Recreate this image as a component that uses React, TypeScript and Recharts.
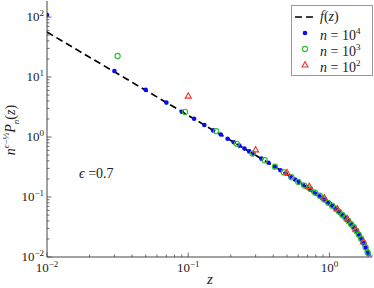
import React from "react";
import { ScatterChart, Scatter, XAxis, YAxis } from "recharts";

// f(z)
const F_Z = [0.01, 0.02, 0.03, 0.05, 0.07, 0.1, 0.15, 0.2, 0.3, 0.4, 0.5, 0.6, 0.7, 0.8, 0.9, 1.0, 1.1, 1.2, 1.3, 1.4, 1.5, 1.6, 1.7, 1.8, 1.9];
const F_Y = [56.2, 21.4, 12.2, 6.0, 3.76, 2.29, 1.3, 0.874, 0.497, 0.333, 0.239, 0.181, 0.143, 0.1147, 0.0941, 0.0776, 0.065, 0.0536, 0.0448, 0.0368, 0.0305, 0.0243, 0.019, 0.0146, 0.0105];

// n = 10^4
const N4_Z = [0.01, 0.03, 0.05, 0.07, 0.09, 0.11, 0.13, 0.15, 0.17, 0.19, 0.21, 0.23, 0.25, 0.27, 0.29,
  0.33, 0.37, 0.41, 0.45, 0.49, 0.53, 0.57, 0.61, 0.65, 0.69, 0.73, 0.77, 0.81, 0.85, 0.89, 0.93, 0.97,
  1.01, 1.05, 1.09, 1.13, 1.17, 1.21, 1.25, 1.29, 1.33, 1.37, 1.41, 1.45, 1.49, 1.53, 1.57, 1.61, 1.65,
  1.69, 1.73, 1.77, 1.81, 1.85, 1.89];
const N4_Y = [108, 12.6, 6.1, 3.75, 2.63, 2.01, 1.59, 1.29, 1.1, 0.938, 0.816, 0.719, 0.641, 0.576, 0.521,
  0.436, 0.372, 0.322, 0.28, 0.246, 0.219, 0.196, 0.177, 0.16, 0.146, 0.133, 0.122, 0.112, 0.103, 0.0958, 0.0885, 0.082,
  0.0762, 0.0708, 0.0661, 0.0612, 0.0567, 0.0527, 0.049, 0.0456, 0.0421, 0.039, 0.0362, 0.0336, 0.0311, 0.0286, 0.026, 0.0238, 0.0215,
  0.0195, 0.0176, 0.0158, 0.0142, 0.0125, 0.0111];

// n = 10^3
const N3_Z = [0.0316, 0.0949, 0.158, 0.221, 0.285, 0.348, 0.411, 0.474, 0.538, 0.601, 0.664, 0.727, 0.791, 0.854, 0.917,
  0.98, 1.044, 1.107, 1.17, 1.233, 1.297, 1.36, 1.423, 1.486, 1.55, 1.613, 1.676, 1.74, 1.803, 1.866];
const N3_Y = [22.4, 2.62, 1.25, 0.77, 0.53, 0.41, 0.32, 0.259, 0.214, 0.178, 0.155, 0.138, 0.118, 0.105, 0.091,
  0.08, 0.0718, 0.0641, 0.0567, 0.0501, 0.0453, 0.0399, 0.0352, 0.0313, 0.0272, 0.0235, 0.0202, 0.0172, 0.0144, 0.0118];

// n = 10^2
const N2_Z = [0.1, 0.3, 0.5, 0.72, 0.92, 1.14, 1.34, 1.53, 1.74];
const N2_Y = [4.8, 0.61, 0.255, 0.15, 0.097, 0.063, 0.043, 0.029, 0.018];

const X_TICKS = [0.01, 0.02, 0.03, 0.04, 0.05, 0.06, 0.07, 0.08, 0.09, 0.1, 0.2, 0.3, 0.4, 0.5, 0.6, 0.7, 0.8, 0.9, 1, 2];
const Y_TICKS = [0.01, 0.02, 0.03, 0.04, 0.05, 0.06, 0.07, 0.08, 0.09, 0.1, 0.2, 0.3, 0.4, 0.5, 0.6, 0.7, 0.8, 0.9,
  1, 2, 3, 4, 5, 6, 7, 8, 9, 10, 20, 30, 40, 50, 60, 70, 80, 90, 100];

const SERIF = "'Liberation Serif', 'DejaVu Serif', serif";
const AXIS = "#444";
const BLUE = "#0a0af5";
const GREEN = "#2bbf2b";
const RED = "#f03030";

const zip = (zs: number[], ys: number[]) => zs.map((z, i) => ({ z, y: ys[i] }));

const isMajor = (v: number) => Math.abs(Math.log10(v) - Math.round(Math.log10(v))) < 1e-6;
const expText = (v: number) => {
  const e = Math.round(Math.log10(v));
  return e < 0 ? `\u2212${-e}` : `${e}`;
};

const Pow = ({ x, y, v, anchor }: any) => (
  <text x={x} y={y} textAnchor={anchor} fontFamily={SERIF} fontSize={13} fill="#222">
    10<tspan dy={-5} fontSize={9}>{expText(v)}</tspan>
  </text>
);

const BottomTick = ({ x, y, payload }: any) => {
  const major = isMajor(payload.value);
  return (
    <g>
      <line x1={x} x2={x} y1={y} y2={y - (major ? 4.5 : 2.5)} stroke={AXIS} strokeWidth={0.8} />
      {major && <Pow x={x} y={y + 15} v={payload.value} anchor="middle" />}
    </g>
  );
};

const TopTick = ({ x, y, payload }: any) => (
  <line x1={x} x2={x} y1={y} y2={y + (isMajor(payload.value) ? 4.5 : 2.5)} stroke={AXIS} strokeWidth={0.8} />
);

const LeftTick = ({ x, y, payload }: any) => {
  const major = isMajor(payload.value);
  return (
    <g>
      <line x1={x} x2={x + (major ? 4.5 : 2.5)} y1={y} y2={y} stroke={AXIS} strokeWidth={0.8} />
      {major && <Pow x={x - 3} y={y + 4} v={payload.value} anchor="end" />}
    </g>
  );
};

const RightTick = ({ x, y, payload }: any) => (
  <line x1={x} x2={x - (isMajor(payload.value) ? 4.5 : 2.5)} y1={y} y2={y} stroke={AXIS} strokeWidth={0.8} />
);

const Dot = (p: any) => <circle cx={p.cx} cy={p.cy} r={2.3} fill={BLUE} />;
const Ring = (p: any) => <circle cx={p.cx} cy={p.cy} r={2.6} fill="none" stroke={GREEN} strokeWidth={1.1} />;
const Tri = (p: any) => (
  <path d={`M${p.cx},${p.cy - 3.3}L${p.cx - 3},${p.cy + 2}L${p.cx + 3},${p.cy + 2}Z`} fill="none" stroke={RED} strokeWidth={1.1} />
);
const NoShape = () => <g />;

export default function App() {
  return (
    <div style={{ position: "absolute", left: 0, top: 0, width: 374, height: 288, background: "#fff", fontFamily: SERIF }}>
      <ScatterChart width={374} height={288} margin={{ top: 1, right: 2, bottom: 0, left: 0 }}>
        <XAxis
          dataKey="z"
          type="number"
          scale="log"
          domain={[0.01, 2]}
          allowDataOverflow
          ticks={X_TICKS}
          interval={0}
          tickSize={0}
          tickMargin={0}
          tickLine={false}
          tick={<BottomTick />}
          axisLine={{ stroke: AXIS }}
          height={31}
        />
        <XAxis
          xAxisId="top"
          orientation="top"
          type="number"
          scale="log"
          domain={[0.01, 2]}
          allowDataOverflow
          ticks={X_TICKS}
          interval={0}
          tickSize={0}
          tickMargin={0}
          tickLine={false}
          tick={<TopTick />}
          axisLine={{ stroke: AXIS }}
          height={0}
        />
        <YAxis
          dataKey="y"
          type="number"
          scale="log"
          domain={[0.01, 185]}
          allowDataOverflow
          ticks={Y_TICKS}
          interval={0}
          tickSize={0}
          tickMargin={0}
          tickLine={false}
          tick={<LeftTick />}
          axisLine={{ stroke: AXIS }}
          width={47}
        />
        <YAxis
          yAxisId="right"
          orientation="right"
          type="number"
          scale="log"
          domain={[0.01, 185]}
          allowDataOverflow
          ticks={Y_TICKS}
          interval={0}
          tickSize={0}
          tickMargin={0}
          tickLine={false}
          tick={<RightTick />}
          axisLine={{ stroke: AXIS }}
          width={0}
        />
        <Scatter
          data={zip(F_Z, F_Y)}
          shape={NoShape}
          line={{ stroke: "#000", strokeWidth: 1.7, strokeDasharray: "7 4" }}
          isAnimationActive={false}
        />
        <Scatter data={zip(N4_Z, N4_Y)} shape={Dot} isAnimationActive={false} />
        <Scatter data={zip(N3_Z, N3_Y)} shape={Ring} isAnimationActive={false} />
        <Scatter data={zip(N2_Z, N2_Y)} shape={Tri} isAnimationActive={false} />
      </ScatterChart>

      {/* legend */}
      <div
        style={{
          position: "absolute", left: 291, top: 5, width: 80, height: 69,
          border: "1px solid #999", background: "#fff", fontSize: 14, color: "#222",
        }}
      >
        {[
          { icon: <line x1={2} x2={22} y1={6} y2={6} stroke="#000" strokeWidth={1.7} strokeDasharray="7 4" />, label: <><i>f</i>(<i>z</i>)</> },
          { icon: <circle cx={12} cy={6} r={2.3} fill={BLUE} />, label: <><i>n</i> = 10<sup style={{ fontSize: 9 }}>4</sup></> },
          { icon: <circle cx={12} cy={6} r={2.6} fill="none" stroke={GREEN} strokeWidth={1.1} />, label: <><i>n</i> = 10<sup style={{ fontSize: 9 }}>3</sup></> },
          { icon: <path d="M12,2.7L9,8L15,8Z" fill="none" stroke={RED} strokeWidth={1.1} />, label: <><i>n</i> = 10<sup style={{ fontSize: 9 }}>2</sup></> },
        ].map((r, i) => (
          <div key={i} style={{ position: "absolute", left: 1, top: 3 + i * 16, height: 16, display: "flex", alignItems: "center", whiteSpace: "nowrap" }}>
            <svg width={24} height={12}>{r.icon}</svg>
            <span style={{ marginLeft: 3, lineHeight: "16px" }}>{r.label}</span>
          </div>
        ))}
      </div>

      {/* annotation and axis titles */}
      <div style={{ position: "absolute", left: 79, top: 166, fontSize: 14, color: "#222", whiteSpace: "nowrap" }}>
        <i>ϵ</i> =0.7
      </div>
      <div style={{ position: "absolute", left: 207, top: 272, fontSize: 15, lineHeight: "14px", color: "#222" }}>
        <i>z</i>
      </div>
      <div
        style={{
          position: "absolute", left: 11, top: 130, transform: "translate(-50%, -50%) rotate(-90deg)",
          fontSize: 14, color: "#222", whiteSpace: "nowrap",
        }}
      >
        <i>n</i><sup style={{ fontSize: 9 }}><i>ϵ</i>−½</sup><i>P</i><sub style={{ fontSize: 9 }}><i>n</i></sub>(<i>z</i>)
      </div>
    </div>
  );
}
